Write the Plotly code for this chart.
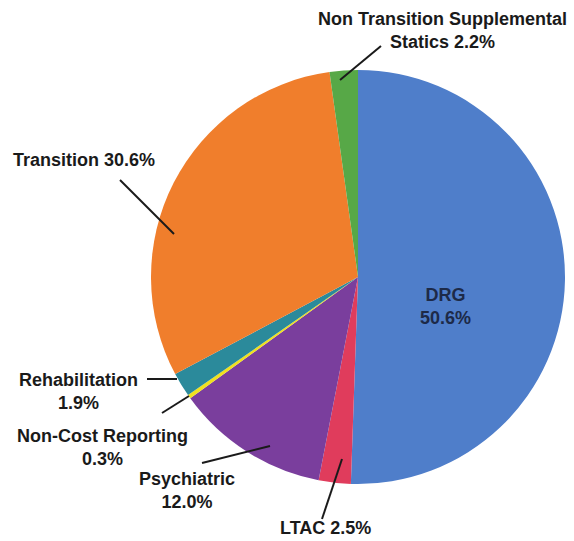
import plotly.graph_objects as go

W, H = 574, 541

categories = ["DRG", "LTAC", "Psychiatric", "Non-Cost Reporting", "Rehabilitation",
              "Transition", "Non Transition Supplemental Statics"]
shares = [50.6, 2.5, 12.0, 0.3, 1.9, 30.6, 2.2]
colors = ["#4F7ECA", "#E03C5C", "#7A3E9D", "#F0E11E", "#2B8A9B", "#F07E2C", "#57A847"]

label_texts = {
    "Non Transition Supplemental Statics": "Non Transition Supplemental<br>Statics 2.2%",
    "Transition": "Transition 30.6%",
    "Rehabilitation": "Rehabilitation<br>1.9%",
    "Non-Cost Reporting": "Non-Cost Reporting<br>0.3%",
    "Psychiatric": "Psychiatric<br>12.0%",
    "LTAC": "LTAC 2.5%",
    "DRG": "DRG<br>50.6%",
}

# pie placement (pixels)
cx, cy, R = 358, 277, 207

def px(x):
    return x / W

def py(y):
    return 1 - y / H

fig = go.Figure(go.Pie(
    labels=categories,
    values=shares,
    sort=False,
    direction="clockwise",
    rotation=0,
    marker=dict(colors=colors, line=dict(width=0)),
    textinfo="none",
    hoverinfo="label+percent",
    domain=dict(x=[px(cx - R), px(cx + R)], y=[py(cy + R), py(cy - R)]),
    showlegend=False,
))

FONT = "Liberation Sans, Arial, sans-serif"

# label layout: (category, x, y, xanchor, color)
label_layout = [
    ("Non Transition Supplemental Statics", 442, 30, "center", "#1a1a1a"),
    ("Transition", 11, 160, "left", "#1a1a1a"),
    ("Rehabilitation", 78, 391, "center", "#1a1a1a"),
    ("Non-Cost Reporting", 102, 447, "center", "#1a1a1a"),
    ("Psychiatric", 187, 490, "center", "#1a1a1a"),
    ("LTAC", 325, 528, "center", "#1a1a1a"),
    ("DRG", 445, 306, "center", "#1d2a48"),
]

annotations = []
for cat, x, y, xa, col in label_layout:
    annotations.append(dict(
        text="<b>" + label_texts[cat] + "</b>",
        x=px(x), y=py(y), xref="paper", yref="paper",
        xanchor=xa, yanchor="middle", align="center",
        showarrow=False,
        font=dict(family=FONT, size=18, color=col),
    ))

# leader lines (pixels): (x0, y0, x1, y1)
leaders = [
    (340, 80, 381, 46),
    (120, 180, 174, 234),
    (147, 379, 177, 379),
    (162, 413, 189, 396),
    (202, 463, 270, 446),
    (322, 519, 342, 459),
]
shapes = [dict(type="line", xref="paper", yref="paper",
               x0=px(a), y0=py(b), x1=px(c), y1=py(d),
               line=dict(color="#1a1a1a", width=2))
          for a, b, c, d in leaders]

fig.update_layout(
    width=W, height=H,
    margin=dict(l=0, r=0, t=0, b=0),
    paper_bgcolor="white",
    plot_bgcolor="white",
    annotations=annotations,
    shapes=shapes,
)

fig.write_html(
    "out.html",
    config={"displayModeBar": False},
    post_script="document.body.style.margin='0';document.body.style.overflow='hidden';",
)
